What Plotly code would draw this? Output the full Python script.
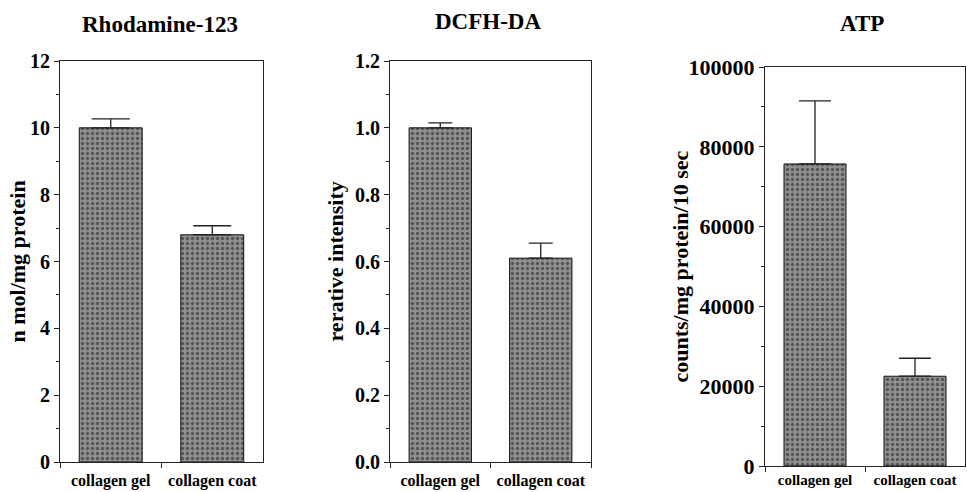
import plotly.graph_objects as go

categories = ["collagen gel", "collagen coat"]

panel_titles = ["Rhodamine-123", "DCFH-DA", "ATP"]
y_titles = ["n mol/mg protein", "rerative intensity", "counts/mg protein/10 sec"]

rhodamine_vals = [10.0, 6.8]
rhodamine_err = [0.27, 0.27]
dcfh_vals = [1.0, 0.61]
dcfh_err = [0.015, 0.045]
atp_vals = [75700, 22500]
atp_err = [15800, 4500]

y_ranges = [[0, 12], [0, 1.2], [0, 100000]]
y_dticks = [2, 0.2, 20000]
y_minor = [1, 0.1, 10000]
y_formats = ["d", ".1f", "d"]

W, H = 967, 492
# pixel boxes of plot areas: (left, right, top, bottom)
boxes = [(60, 263, 61, 462), (390, 591, 61, 462), (765, 965, 67, 466)]
caps = [19, 12, 16]
tick_sizes = [20, 20, 22]

FONT = "Liberation Serif"
LINE = "#222222"

fig = go.Figure()
data = [(rhodamine_vals, rhodamine_err), (dcfh_vals, dcfh_err), (atp_vals, atp_err)]

for i, (vals, errs) in enumerate(data):
    ax = "" if i == 0 else str(i + 1)
    fig.add_trace(go.Bar(
        x=categories, y=vals,
        xaxis="x" + ax, yaxis="y" + ax,
        width=0.62,
        marker=dict(
            color="#858585",
            line=dict(color="#111111", width=1),
            pattern=dict(shape=".", fgcolor="#1c1c1c", bgcolor="#8f8f8f", size=5, solidity=0.35),
        ),
        error_y=dict(type="data", array=errs, arrayminus=[0, 0], symmetric=False,
                     color="#222222", thickness=1.3, width=caps[i]),
        showlegend=False,
    ))

layout = dict(
    width=W, height=H,
    margin=dict(l=0, r=0, t=0, b=0, autoexpand=False),
    paper_bgcolor="white", plot_bgcolor="white",
    bargap=0.38,
    annotations=[],
)

title_pos = [(160, 25), (488, 22), (862, 23)]
ytitle_x = [17, 335, 680]
xlabel_standoff = [4, 4, 0]
xlabel_sizes = [16, 16, 15]

for i, (l, r, t, b) in enumerate(boxes):
    ax = "" if i == 0 else str(i + 1)
    layout["xaxis" + ax] = dict(
        domain=[l / W, r / W], anchor="y" + ax, automargin=False,
        type="category", categoryorder="array", categoryarray=categories,
        range=[-0.5, 1.5],
        tickson="boundaries", ticks="outside", ticklen=5, tickcolor=LINE,
        showline=True, linecolor=LINE, linewidth=1, mirror=True,
        showgrid=False, zeroline=False,
        ticklabelstandoff=xlabel_standoff[i],
        tickfont=dict(family=FONT, size=xlabel_sizes[i], color="black", weight="bold"),
    )
    layout["yaxis" + ax] = dict(
        domain=[(H - b) / H, (H - t) / H], anchor="x" + ax, automargin=False,
        range=y_ranges[i], dtick=y_dticks[i], tick0=0, tickformat=y_formats[i],
        ticks="outside", ticklen=5, tickcolor=LINE,
        minor=dict(dtick=y_minor[i], tick0=0, ticks="outside", ticklen=3, tickcolor=LINE, showgrid=False),
        showline=True, linecolor=LINE, linewidth=1, mirror=True,
        showgrid=False, zeroline=False,
        tickfont=dict(family=FONT, size=tick_sizes[i], color="black", weight="bold"),
    )
    tx, ty = title_pos[i]
    layout["annotations"].append(dict(
        text=panel_titles[i], x=tx / W, y=1 - ty / H, xref="paper", yref="paper",
        showarrow=False, xanchor="center", yanchor="middle",
        font=dict(family=FONT, size=23, color="black", weight="bold"),
    ))
    layout["annotations"].append(dict(
        text=y_titles[i], x=ytitle_x[i] / W, y=1 - ((t + b) / 2) / H, xref="paper", yref="paper",
        showarrow=False, xanchor="center", yanchor="middle", textangle=-90,
        font=dict(family=FONT, size=22, color="black", weight="bold"),
    ))

fig.update_layout(**layout)
fig.write_html("out.html")
